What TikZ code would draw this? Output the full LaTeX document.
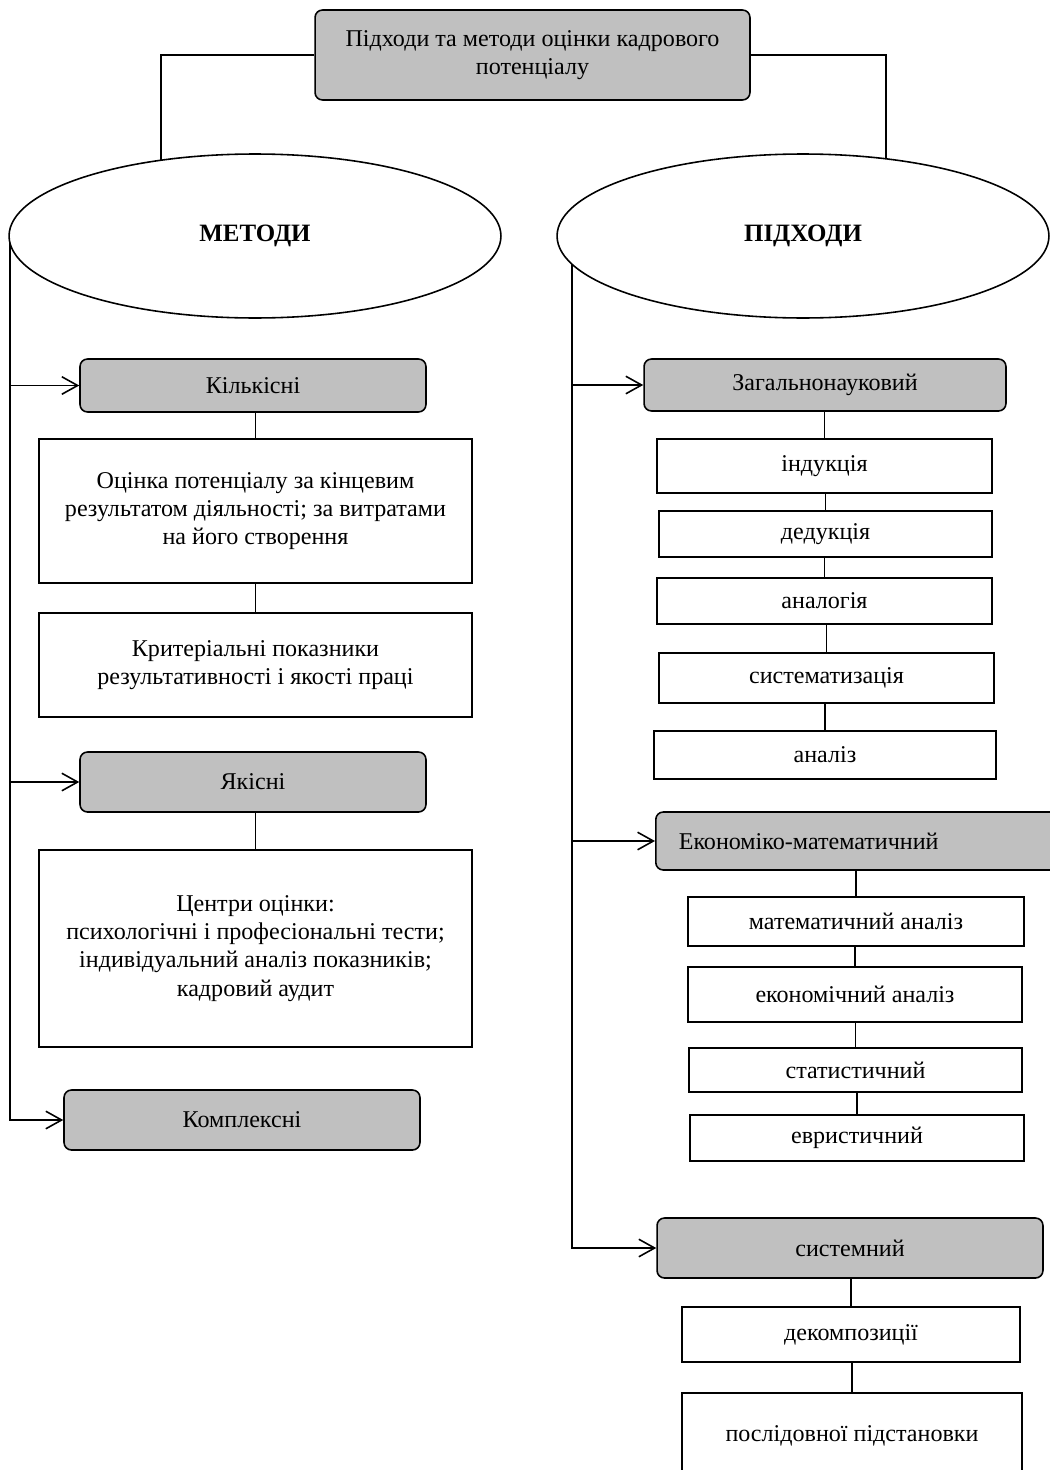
\documentclass[tikz,border=0pt]{standalone}
\usepackage{fontspec}
\setmainfont{Liberation Serif}
\usetikzlibrary{arrows.meta,shapes.geometric}
\definecolor{boxgray}{HTML}{C0C0C0}
\tikzset{
  grbox/.style={draw, rounded corners=0.15cm, fill=boxgray, inner sep=0pt, align=center},
  whbox/.style={draw, fill=white, inner sep=0pt, align=center},
  oval/.style={draw, ellipse, inner sep=0pt, font=\fontsize{14.2}{16}\selectfont\bfseries},
  arr/.style={-{Straight Barb[length=9pt,width=10pt]}},
}

\begin{document}
\begin{tikzpicture}[x=0.02cm, y=-0.02cm, line width=0.9pt, font=\fontsize{13.7}{16}\selectfont]
\clip (0,0) rectangle (1050,1470);

% верх
\node[grbox, minimum width=8.7cm, minimum height=1.8cm] (top) at (532.5,55) {Підходи та методи оцінки кадрового\\потенціалу};
\node[oval, minimum width=9.84cm, minimum height=3.28cm] (metody) at (255,236) {МЕТОДИ};
\node[oval, minimum width=9.84cm, minimum height=3.28cm] (pidkhody) at (803,236) {ПІДХОДИ};
\coordinate (lhook) at (161,160);
\coordinate (rhook) at (886,159);
\draw (top.west) -| (lhook);
\draw (top.east) -| (rhook);

% методи
\node[grbox, minimum width=6.92cm, minimum height=1.06cm] (kilk) at (253,385.5) {Кількісні};
\node[whbox, minimum width=8.66cm, minimum height=2.88cm] (ocinka) at (255.5,511) {Оцінка потенціалу за кінцевим\\результатом діяльності; за витратами\\на його створення};
\node[whbox, minimum width=8.66cm, minimum height=2.08cm] (kryt) at (255.5,665) {Критеріальні показники\\результативності і якості праці};
\node[grbox, minimum width=6.92cm, minimum height=1.2cm] (yakisni) at (253,782) {Якісні};
\node[whbox, minimum width=8.66cm, minimum height=3.94cm] (centry) at (255.5,948.5) {Центри оцінки:\\психологічні і професіональні тести;\\індивідуальний аналіз показників;\\кадровий аудит};
\node[grbox, minimum width=7.12cm, minimum height=1.2cm] (kompl) at (242,1120) {Комплексні};

\coordinate (trunkL) at (10,243);
\draw[arr] (trunkL) |- (kompl.west);
\foreach \n in {kilk,yakisni}
  \draw[arr] (trunkL |- \n.west) -- (\n.west);
\foreach \a/\b in {kilk/ocinka,ocinka/kryt,yakisni/centry}
  \draw (\b.north) -- (\b.north |- \a.south);

% підходи
\node[grbox, minimum width=7.24cm, minimum height=1.04cm] (zag) at (825,385) {Загальнонауковий};
\node[whbox, minimum width=6.7cm, minimum height=1.08cm] (induk) at (824.5,466) {індукція};
\node[whbox, minimum width=6.66cm, minimum height=0.92cm] (deduk) at (825.5,534) {дедукція};
\node[whbox, minimum width=6.7cm, minimum height=0.92cm] (analog) at (824.5,601) {аналогія};
\node[whbox, minimum width=6.7cm, minimum height=1.0cm] (sistem) at (826.5,678) {систематизація};
\node[whbox, minimum width=6.84cm, minimum height=0.96cm] (analiz) at (825,755) {аналіз};

\node[grbox, anchor=west, minimum height=1.16cm, text width=7.78cm, inner xsep=0.46cm, align=left] (ekon) at (655,841) {Економіко-математичний};
\node[whbox, minimum width=6.72cm, minimum height=0.98cm] (mat) at (856,921.5) {математичний аналіз};
\node[whbox, minimum width=6.68cm, minimum height=1.1cm] (econ) at (855,994.5) {економічний аналіз};
\node[whbox, minimum width=6.66cm, minimum height=0.88cm] (stat) at (855.5,1070) {статистичний};
\node[whbox, minimum width=6.68cm, minimum height=0.92cm] (evr) at (857,1138) {евристичний};

\node[grbox, minimum width=7.72cm, minimum height=1.2cm] (sysm) at (850,1248) {системний};
\node[whbox, minimum width=6.76cm, minimum height=1.1cm] (dekomp) at (851,1334.5) {декомпозиції};
\node[whbox, minimum width=6.8cm, minimum height=1.72cm] (poslid) at (852,1436) {послідовної підстановки};

\coordinate (trunkR) at (572,264);
\draw[arr] (trunkR) |- (sysm.west);
\foreach \n in {zag,ekon}
  \draw[arr] (trunkR |- \n.west) -- (\n.west);
\foreach \a/\b in {zag/induk,induk/deduk,deduk/analog,analog/sistem,sistem/analiz,ekon/mat,mat/econ,econ/stat,stat/evr,sysm/dekomp,dekomp/poslid}
  \draw (\b.north) -- (\b.north |- \a.south);

\end{tikzpicture}
\end{document}
